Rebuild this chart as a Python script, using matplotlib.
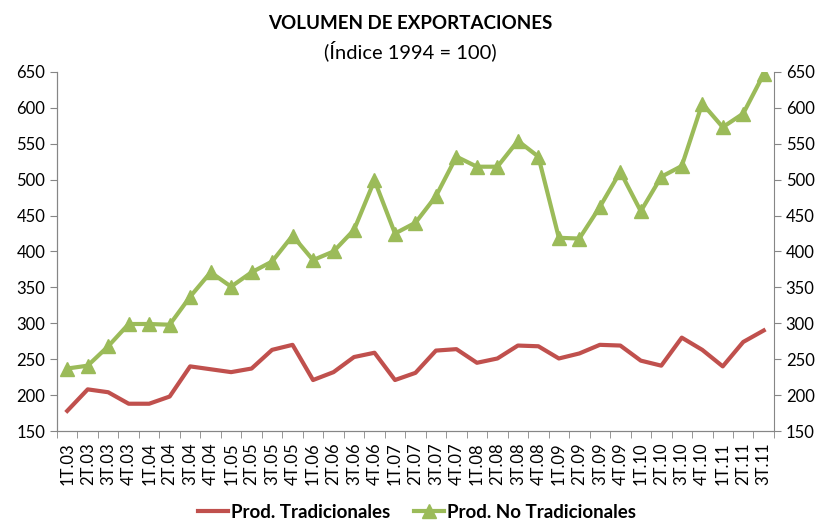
import matplotlib.pyplot as plt
import numpy as np

quarters = [f"{q}T.{y:02d}" for y in range(3, 12) for q in range(1, 5)][:35]

tradicionales = [178, 208, 204, 188, 188, 198, 240, 236, 232, 237, 263, 270,
                 221, 232, 253, 259, 221, 231, 262, 264, 245, 251, 269, 268,
                 251, 258, 270, 269, 248, 241, 280, 263, 240, 274, 290]
no_tradicionales = [237, 241, 268, 299, 299, 298, 337, 371, 351, 371, 386, 422,
                    388, 400, 430, 499, 425, 440, 477, 532, 518, 518, 554, 532,
                    419, 418, 462, 511, 456, 504, 519, 606, 573, 592, 647]

plt.rcParams["font.family"] = ["Lato", "DejaVu Sans"]

fig = plt.figure(figsize=(8.21, 5.21), dpi=100)
ax = fig.add_axes([0.0694, 0.1727, 0.8733, 0.6893])

x = np.arange(len(quarters))
ax.plot(x, tradicionales, color="#C0504D", lw=3, label="Prod. Tradicionales")
ax.plot(x, no_tradicionales, color="#9BBB59", lw=3, marker="^", ms=10,
        label="Prod. No Tradicionales")

ax.set_xlim(-0.5, len(quarters) - 0.5)
ax.set_ylim(150, 650)
ax.set_yticks(range(150, 651, 50))
ax.set_xticks(x)
ax.set_xticklabels(quarters, rotation=90, fontsize=12)
ax.set_xticks(np.arange(-0.5, len(quarters), 1), minor=True)
ax.tick_params(axis="x", which="major", length=0, pad=8)
ax.tick_params(axis="x", which="minor", length=5, color="#868686")
ax.tick_params(axis="y", labelsize=12, length=5, color="#868686")

ax2 = ax.twinx()
ax2.set_ylim(150, 650)
ax2.set_yticks(range(150, 651, 50))
ax2.tick_params(axis="y", labelsize=12, length=5, color="#868686")

for a in (ax, ax2):
    a.spines["top"].set_visible(False)
    for s in ("left", "right", "bottom"):
        a.spines[s].set_color("#868686")
ax.spines["right"].set_visible(False)

fig.text(0.5, 0.955, "VOLUMEN DE EXPORTACIONES", ha="center", va="center",
         fontsize=13.5, fontweight="bold")
fig.text(0.5, 0.903, "(Índice 1994 = 100)", ha="center", va="center", fontsize=14.5)

fig.legend(loc="center", bbox_to_anchor=(0.508, 0.017), ncol=2, frameon=False,
           prop={"size": 13.5, "weight": "bold"}, handlelength=1.6,
           handletextpad=0.15, columnspacing=1.3)

fig.savefig("out.png", dpi=100)
